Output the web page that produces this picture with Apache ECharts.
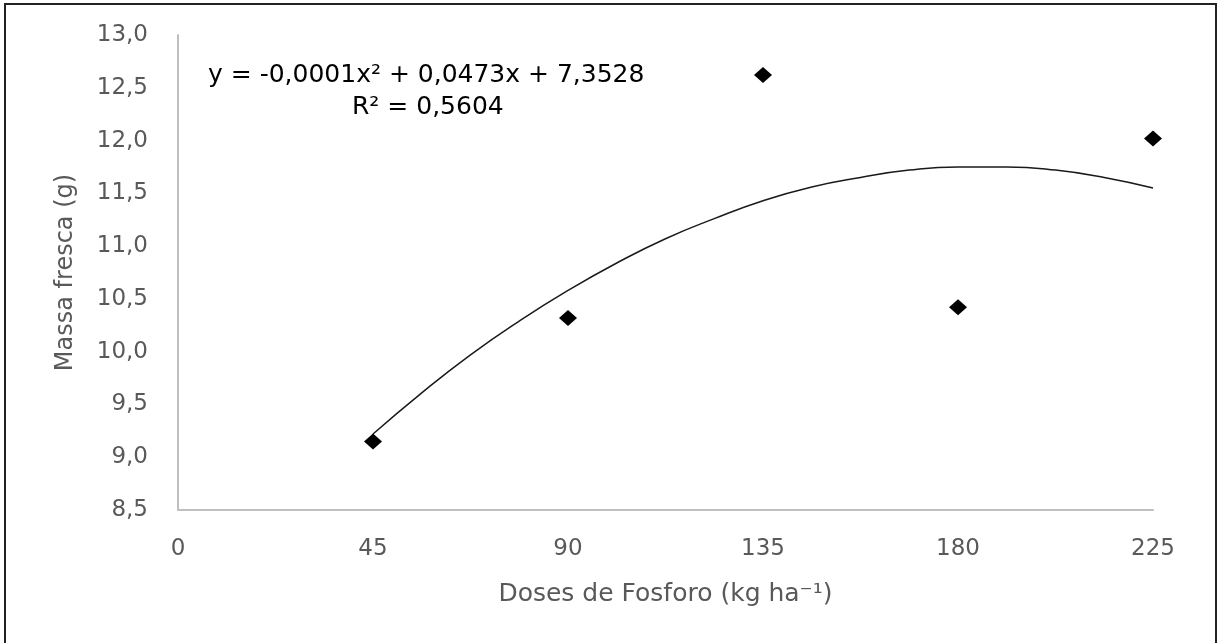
<!doctype html>
<html>
	<head>
		<meta charset="utf-8">
		<title>Massa fresca</title>
		<style>
			html, body { margin: 0; padding: 0; background: #fff; }
			#main { width: 1218px; height: 643px; }
		</style>
	</head>
	<body>
		<div id="main"></div>
		<script src="https://cdn.jsdelivr.net/npm/echarts@6/dist/echarts.min.js"></script>
		<script>
			// doses (kg ha-1) e massa fresca (g)
			var doses = [45, 90, 135, 180, 225];
			var massa = [9.15, 10.32, 12.62, 10.42, 12.02];

			// linha de tendencia
			var trendX = [45, 56.25, 67.5, 78.75, 90, 101.25, 112.5, 123.75, 135, 146.25, 157.5, 168.75, 180, 191.25, 202.5, 213.75, 225];
			var trendY = [9.22, 9.61, 9.97, 10.29, 10.58, 10.84, 11.07, 11.26, 11.43, 11.56, 11.65, 11.72, 11.75, 11.75, 11.72, 11.65, 11.55];

			var xTicks = [0, 45, 90, 135, 180, 225];
			var yTicks = [8.5, 9.0, 9.5, 10.0, 10.5, 11.0, 11.5, 12.0, 12.5, 13.0];

			var eqText = 'y = -0,0001x² + 0,0473x + 7,3528';
			var r2Text = 'R² = 0,5604';

			var font = 'DejaVu Sans';
			var gray = '#595959';

			var pontos = [];
			for (var i = 0; i < doses.length; i++) {
				pontos.push([doses[i], massa[i]]);
			}
			var tendencia = [];
			for (var j = 0; j < trendX.length; j++) {
				tendencia.push([trendX[j], trendY[j]]);
			}

			var myChart = echarts.init(document.getElementById('main'));
			var option = {
				animation: false,
				grid: { left: 178, right: 65, top: 35, bottom: 133 },
				xAxis: {
					type: 'value',
					min: xTicks[0],
					max: xTicks[xTicks.length - 1],
					interval: 45,
					name: 'Doses de Fosforo (kg ha⁻¹)',
					nameLocation: 'middle',
					nameGap: 72,
					nameTextStyle: { color: gray, fontFamily: font, fontSize: 25 },
					axisLine: { lineStyle: { color: '#bfbfbf', width: 2 } },
					axisTick: { show: false },
					splitLine: { show: false },
					axisLabel: { color: gray, fontFamily: font, fontSize: 23, margin: 28 }
				},
				yAxis: {
					type: 'value',
					min: yTicks[0],
					max: yTicks[yTicks.length - 1],
					interval: 0.5,
					name: 'Massa fresca (g)',
					nameLocation: 'middle',
					nameGap: 100,
					nameTextStyle: { color: gray, fontFamily: font, fontSize: 24 },
					axisLine: { show: true, lineStyle: { color: '#bfbfbf', width: 2 } },
					axisTick: { show: false },
					splitLine: { show: false },
					axisLabel: {
						color: gray, fontFamily: font, fontSize: 23, margin: 30,
						formatter: function (v) { return v.toFixed(1).replace('.', ','); }
					}
				},
				graphic: [
					{
						type: 'rect', silent: true,
						shape: { x: 5, y: 4, width: 1211, height: 650 },
						style: { fill: 'none', stroke: '#222', lineWidth: 2 }
					},
					{
						type: 'text', left: 208, top: 63,
						style: { text: eqText, fill: '#000', font: '25px "DejaVu Sans"' }
					},
					{
						type: 'text', left: 352, top: 95,
						style: { text: r2Text, fill: '#000', font: '25px "DejaVu Sans"' }
					}
				],
				series: [
					{
						type: 'line',
						data: tendencia,
						smooth: true,
						showSymbol: false,
						lineStyle: { color: '#1a1a1a', width: 1.5 },
						z: 2
					},
					{
						type: 'scatter',
						data: pontos,
						symbol: 'diamond',
						symbolSize: [18, 16],
						itemStyle: { color: '#000', opacity: 1 },
						z: 3
					}
				]
			};
			myChart.setOption(option);
		</script>
	</body>
</html>
